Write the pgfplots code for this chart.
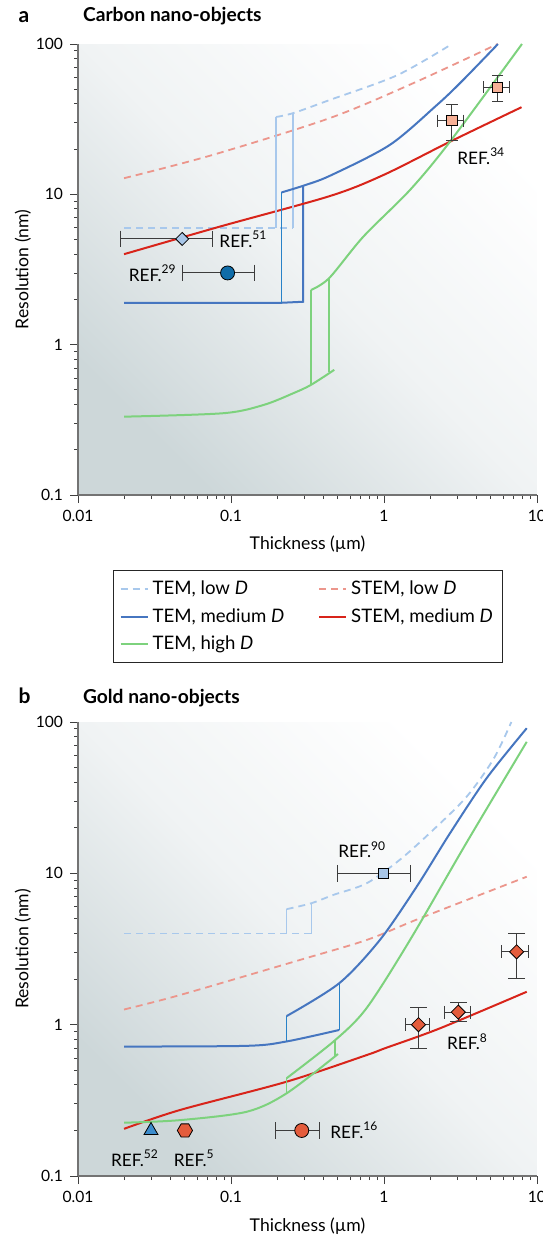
\documentclass[border=0pt]{standalone}
\usepackage{pgfplots}
\pgfplotsset{compat=1.18}
\usepackage{fontspec}
\setmainfont{Lato}

\definecolor{tlow}{RGB}{168,200,236}
\definecolor{slow}{RGB}{236,150,140}
\definecolor{tmed}{RGB}{70,118,192}
\definecolor{tmedv}{RGB}{40,130,200}
\definecolor{smed}{RGB}{216,36,26}
\definecolor{thigh}{RGB}{125,210,125}
\definecolor{bgll}{RGB}{205,215,217}
\definecolor{bgmid}{RGB}{240,243,244}
\definecolor{ebar}{RGB}{60,60,60}
\definecolor{salmon}{RGB}{246,176,150}
\definecolor{pale}{RGB}{168,198,232}
\definecolor{deepblue}{RGB}{15,108,168}
\definecolor{vermil}{RGB}{228,92,60}
\definecolor{triblue}{RGB}{60,140,204}

\pgfdeclareplotmark{hexagon*}{%
  \pgfpathmoveto{\pgfpointpolar{0}{\pgfplotmarksize}}%
  \pgfpathlineto{\pgfpointpolar{60}{\pgfplotmarksize}}%
  \pgfpathlineto{\pgfpointpolar{120}{\pgfplotmarksize}}%
  \pgfpathlineto{\pgfpointpolar{180}{\pgfplotmarksize}}%
  \pgfpathlineto{\pgfpointpolar{240}{\pgfplotmarksize}}%
  \pgfpathlineto{\pgfpointpolar{300}{\pgfplotmarksize}}%
  \pgfpathclose
  \pgfusepathqfillstroke}

\newcommand\reffont{\fontsize{8.6}{10}\selectfont}

\tikzset{
  lowd/.style={line width=0.9pt, dash pattern=on 3.5pt off 2.5pt},
  sol/.style={line width=1pt},
  conn/.style={line width=0.7pt},
  xbar/.style={ebar, line width=0.5pt, mark=|, mark options={solid, line width=0.5pt}},
  ybar/.style={ebar, line width=0.5pt, mark=-, mark options={solid, line width=0.5pt}},
  dot/.style={only marks, mark options={draw=ebar, line width=0.5pt}},
}

\pgfplotsset{
  every axis/.append style={
    scale only axis, width=229.5pt,
    xmin=0.01, xmax=10, ymin=0.1, ymax=100,
    clip=false,
    axis x line*=bottom, axis y line*=left,
    axis line style={draw=black!55, line width=0.6pt},
    tick align=outside,
    major tick length=4pt, minor tick length=2pt,
    tick style={black!75, line width=0.45pt},
    xtick={0.01,0.1,1,10}, xticklabels={0.01,0.1,1,10},
    ytick={0.1,1,10,100}, yticklabels={0.1,1,10,100},
    minor xtick={0.02,0.03,0.04,0.05,0.06,0.07,0.08,0.09,0.2,0.3,0.4,0.5,0.6,0.7,0.8,0.9,2,3,4,5,6,7,8,9},
    minor ytick={0.2,0.3,0.4,0.5,0.6,0.7,0.8,0.9,2,3,4,5,6,7,8,9,20,30,40,50,60,70,80,90},
    tick label style={font=\fontsize{7.8}{9}\selectfont},
    xlabel={Thickness (µm)}, ylabel={Resolution (nm)},
    label style={font=\fontsize{8.8}{10}\selectfont},
    x label style={at={(axis description cs:0.5,-0.11)}, anchor=center},
    y label style={at={(axis description cs:-0.12,0.5)}, anchor=center},
    axis background/.style={left color=bgll, right color=white, middle color=bgmid, shading angle=135},
  },
}

\begin{document}
\begin{tikzpicture}

\node[anchor=base west, font=\bfseries\fontsize{10.5}{12}\selectfont] at (5.8pt,-11pt) {a};
\node[anchor=base west, font=\bfseries\fontsize{9.6}{12}\selectfont] at (38pt,-10.9pt) {Carbon nano-objects};
\node[anchor=base west, font=\bfseries\fontsize{10.5}{12}\selectfont] at (5.8pt,-351.5pt) {b};
\node[anchor=base west, font=\bfseries\fontsize{9.6}{12}\selectfont] at (38pt,-351.5pt) {Gold nano-objects};

% ---------------- panel a: carbon ----------------
\begin{loglogaxis}[at={(39pt,-247.5pt)}, anchor=south west, height=225.5pt,
  legend columns=2, legend cell align=left,
  legend style={at={(0.0763,-0.1663)}, anchor=north west, draw=black!85, line width=0.6pt,
    font=\fontsize{9.3}{11}\selectfont, inner xsep=3pt, inner ysep=3pt, row sep=1.5pt,
    /tikz/every even column/.append style={column sep=15pt}},
  legend image code/.code={\draw[#1] (0pt,0pt) -- (13.5pt,0pt);},
]
\addplot[tlow, lowd] coordinates {(0.02,6) (0.255,6)};
\addlegendentry{TEM, low \textit{D}}
\addplot[slow, lowd, smooth] coordinates {(0.02,12.8) (0.076,18.3) (0.444,32.2) (1.56,55) (5.53,100)};
\addlegendentry{STEM, low \textit{D}}
\addplot[tmed, sol] coordinates {(0.02,1.9) (0.214,1.9) (0.296,1.93) (0.296,11.4)};
\addlegendentry{TEM, medium \textit{D}}
\addplot[smed, sol, smooth] coordinates {(0.02,4.0) (0.0845,6.1) (0.444,9.75) (1.0,13.5) (2.7,22.4) (7.93,38)};
\addlegendentry{STEM, medium \textit{D}}
\addplot[thigh, sol, smooth] coordinates {(0.02,0.332) (0.089,0.35) (0.163,0.397) (0.255,0.475) (0.333,0.54) (0.473,0.68)};
\addlegendentry{TEM, high \textit{D}}

\addplot[tlow, conn, forget plot] coordinates {(0.197,6) (0.197,32.7)};
\addplot[tlow, conn, forget plot] coordinates {(0.255,6) (0.255,34.7)};
\addplot[tlow, lowd, smooth, forget plot] coordinates {(0.197,32.7) (0.255,34.7) (0.444,42.5) (1.22,62) (2.78,100)};
\addplot[tmedv, conn, forget plot] coordinates {(0.214,1.9) (0.214,10.3)};
\addplot[tmed, sol, smooth, forget plot] coordinates {(0.214,10.3) (0.296,11.4) (0.444,13.3) (1.09,21.3) (2.2,39) (3.2,56) (5.56,100)};
\addplot[thigh, conn, forget plot] coordinates {(0.333,0.54) (0.333,2.31)};
\addplot[thigh, conn, forget plot] coordinates {(0.438,0.66) (0.438,2.77)};
\addplot[thigh, sol, smooth, forget plot] coordinates {(0.333,2.31) (0.438,2.77) (0.733,5.23) (1.48,10.7) (2.7,22.4) (7.98,100)};

% measurements with error bars
\addplot[xbar, mark size=4.2pt, forget plot] coordinates {(0.019,5.05) (0.076,5.05)};
\addplot[dot, mark=square*, mark size=2.3pt, mark options={rotate=45, fill=pale}, forget plot] coordinates {(0.048,5.05)};
\addplot[xbar, mark size=4.2pt, forget plot] coordinates {(0.048,3.0) (0.142,3.0)};
\addplot[dot, mark=*, mark size=3.5pt, mark options={fill=deepblue}, forget plot] coordinates {(0.095,3.0)};
\addplot[xbar, mark size=3pt, forget plot] coordinates {(2.23,30.9) (3.33,30.9)};
\addplot[ybar, mark size=2.8pt, forget plot] coordinates {(2.78,22.7) (2.78,39.5)};
\addplot[xbar, mark size=3pt, forget plot] coordinates {(4.46,51.6) (6.66,51.6)};
\addplot[ybar, mark size=2.8pt, forget plot] coordinates {(5.53,41.4) (5.53,62.2)};
\addplot[dot, mark=square*, mark size=2.6pt, mark options={fill=salmon}, forget plot] coordinates {(2.78,30.9) (5.53,51.6)};

\node[anchor=west, inner sep=0pt, font=\reffont] at (axis cs:0.0836,5.05) {REF.\textsuperscript{51}};
\node[anchor=east, inner sep=0pt, font=\reffont] at (axis cs:0.0444,3.0) {REF.\textsuperscript{29}};
\node[anchor=west, inner sep=0pt, font=\reffont] at (axis cs:3.0,18) {REF.\textsuperscript{34}};
\end{loglogaxis}

% ---------------- panel b: gold ----------------
\begin{loglogaxis}[at={(39pt,-588pt)}, anchor=south west, height=227pt]
\addplot[tlow, lowd] coordinates {(0.02,4.0) (0.336,4.0)};
\addplot[slow, lowd, smooth] coordinates {(0.02,1.26) (0.0464,1.57) (0.283,2.68) (0.771,3.63) (1.72,5.05) (8.57,9.5)};
\addplot[tmed, sol, smooth] coordinates {(0.02,0.717) (0.127,0.725) (0.231,0.775) (0.51,0.923)};
\addplot[smed, sol, smooth] coordinates {(0.02,0.205) (0.0464,0.273) (0.231,0.42) (0.771,0.63) (1.02,0.70) (2.32,0.946) (8.57,1.65)};
\addplot[thigh, sol, smooth] coordinates {(0.02,0.225) (0.0464,0.234) (0.127,0.266) (0.231,0.352) (0.50,0.64)};

\addplot[tlow, conn] coordinates {(0.231,4.0) (0.231,5.8)};
\addplot[tlow, conn] coordinates {(0.336,4.0) (0.336,6.35)};
\addplot[tlow, lowd, smooth] coordinates {(0.231,5.8) (0.336,6.35) (0.466,7.2) (0.771,8.6) (1.27,12.3) (2.10,19.4) (3.47,32.1) (5.2,57) (6.8,100)};
\addplot[tmedv, conn] coordinates {(0.231,0.775) (0.231,1.14)};
\addplot[tmedv, conn] coordinates {(0.51,0.923) (0.51,1.88)};
\addplot[tmed, sol, smooth] coordinates {(0.231,1.14) (0.51,1.88) (0.94,3.63) (1.64,8.2) (2.70,18.4) (4.69,42.6) (8.57,91)};
\addplot[thigh, conn] coordinates {(0.231,0.352) (0.231,0.443)};
\addplot[thigh, conn] coordinates {(0.479,0.62) (0.479,0.79)};
\addplot[thigh, sol, smooth] coordinates {(0.231,0.443) (0.479,0.79) (0.771,1.29) (1.48,3.63) (3.47,16) (8.57,74)};

% measurements with error bars
\addplot[xbar, mark size=4.2pt] coordinates {(0.5,10) (1.48,10)};
\addplot[dot, mark=square*, mark size=2.5pt, mark options={fill=pale}] coordinates {(0.99,10)};
\addplot[xbar, mark size=3.2pt] coordinates {(1.39,1.0) (1.98,1.0)};
\addplot[ybar, mark size=4.2pt] coordinates {(1.68,0.70) (1.68,1.30)};
\addplot[xbar, mark size=3.2pt] coordinates {(2.47,1.21) (3.65,1.21)};
\addplot[ybar, mark size=4.2pt] coordinates {(3.06,1.05) (3.06,1.40)};
\addplot[xbar, mark size=3.2pt] coordinates {(5.88,3.03) (8.77,3.03)};
\addplot[ybar, mark size=4.2pt] coordinates {(7.36,2.03) (7.36,4.02)};
\addplot[dot, mark=square*, mark size=2.5pt, mark options={rotate=45, fill=vermil}] coordinates {(1.68,1.0) (3.06,1.21) (7.36,3.03)};
\addplot[dot, mark=triangle*, mark size=4pt, mark options={fill=triblue}] coordinates {(0.03,0.2)};
\addplot[dot, mark=hexagon*, mark size=3.8pt, mark options={fill=vermil}] coordinates {(0.05,0.2)};
\addplot[xbar, mark size=4.2pt] coordinates {(0.194,0.2) (0.378,0.2)};
\addplot[dot, mark=*, mark size=3.5pt, mark options={fill=vermil}] coordinates {(0.29,0.2)};

\node[anchor=west, inner sep=0pt, font=\reffont] at (axis cs:0.5,14.3) {REF.\textsuperscript{90}};
\node[anchor=west, inner sep=0pt, font=\reffont] at (axis cs:2.57,0.77) {REF.\textsuperscript{8}};
\node[anchor=center, inner sep=0pt, font=\reffont] at (axis cs:0.0236,0.1315) {REF.\textsuperscript{52}};
\node[anchor=center, inner sep=0pt, font=\reffont] at (axis cs:0.0575,0.1315) {REF.\textsuperscript{5}};
\node[anchor=west, inner sep=0pt, font=\reffont] at (axis cs:0.444,0.2) {REF.\textsuperscript{16}};
\end{loglogaxis}

\pgfresetboundingbox
\useasboundingbox (0pt,0pt) rectangle (271pt,-619.5pt);
\end{tikzpicture}
\end{document}
